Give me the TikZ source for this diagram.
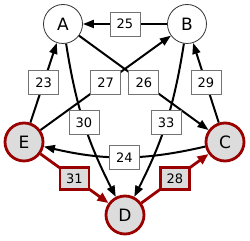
\documentclass[tikz,border=0pt]{standalone}
\usepackage{fontspec}
\setmainfont{DejaVu Sans}
\usetikzlibrary{arrows.meta}
\definecolor{hotred}{RGB}{155,0,0}
\definecolor{hotfill}{RGB}{220,220,220}

\begin{document}
\begin{tikzpicture}[x=1pt, y=1pt,
  vtx/.style={circle, draw=black!80, fill=white, line width=0.8pt, minimum size=39pt, inner sep=0pt, font=\fontsize{17}{20}\selectfont},
  hot/.style={vtx, draw=hotred, fill=hotfill, line width=2.8pt, minimum size=38pt},
  wlbl/.style={draw=black!55, fill=white, text=black, line width=0.8pt, minimum width=30pt, minimum height=24pt, inner sep=0pt, font=\fontsize{13}{15}\selectfont},
  hlbl/.style={wlbl, draw=hotred, fill=hotfill, line width=2.8pt, minimum width=29pt, minimum height=22pt},
  arr/.style={-{Triangle[length=11pt,width=8pt]}, line width=2pt, black},
  harr/.style={-{Triangle[length=11pt,width=9pt]}, line width=2.8pt, hotred}
]
\useasboundingbox (0,0) rectangle (250,241);
\node[vtx] (A) at (63,217)  {A};
\node[vtx] (B) at (187,217) {B};
\node[hot] (E) at (24,99)   {E};
\node[hot] (C) at (225,99)  {C};
\node[hot] (D) at (125,26)  {D};

\draw[arr] (B) -- (A) node[midway,wlbl]{25};
\draw[arr] (E) -- (A) node[midway,wlbl]{23};
\draw[arr] (C) -- (B) node[midway,wlbl]{29};
\draw[arr] (A) -- (C) node[midway,wlbl]{26};
\draw[arr] (E) -- (B) node[midway,wlbl]{27};
\draw[arr] (A) to[bend right=9] node[wlbl]{30} (D);
\draw[arr] (B) to[bend left=9]  node[wlbl]{33} (D);
\draw[arr] (C) to[bend left=13] node[wlbl]{24} (E);
\draw[harr] (E) -- (D) node[midway,hlbl]{31};
\draw[harr] (D) -- (C) node[midway,hlbl]{28};
\end{tikzpicture}
\end{document}
